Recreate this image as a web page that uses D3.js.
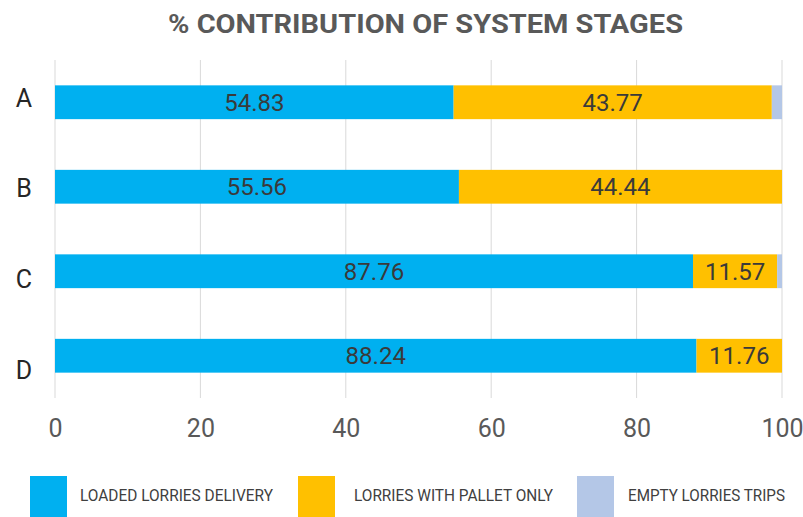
<!DOCTYPE html>
<html>
<head>
<meta charset="utf-8">
<script src="https://cdn.jsdelivr.net/npm/d3@7"></script>
<style>
  html, body { margin: 0; padding: 0; background: #fff; }
  svg { display: block; font-family: Roboto, "Noto Sans", sans-serif; }
</style>
</head>
<body>
<svg id="chart" width="803" height="517"></svg>
<script>
// Scenario categories and the share (%) of each system stage
const categories = ["A", "B", "C", "D"];
const loadedDelivery = [54.83, 55.56, 87.76, 88.24];
const palletOnly     = [43.77, 44.44, 11.57, 11.76];
const emptyTrips     = [1.40, 0.00, 0.67, 0.00];
const seriesNames = ["LOADED LORRIES DELIVERY", "LORRIES WITH PALLET ONLY", "EMPTY LORRIES TRIPS"];
const seriesColors = ["#00B0F0", "#FFC000", "#B4C7E7"];
const xTicks = [0, 20, 40, 60, 80, 100];
const titleText = "% CONTRIBUTION OF SYSTEM STAGES";

const svg = d3.select("#chart");
const W = 803, H = 517;
const plot = { left: 55, right: 782, top: 60, bottom: 398 };

const rows = categories.map((c, i) => ({
  cat: c,
  loaded: loadedDelivery[i],
  pallet: palletOnly[i],
  empty: emptyTrips[i]
}));
const keys = ["loaded", "pallet", "empty"];
const stacked = d3.stack().keys(keys)(rows);

const x = d3.scaleLinear().domain([0, 100]).range([plot.left, plot.right]);
const y = d3.scaleBand().domain(categories)
  .range([plot.top, plot.bottom]).paddingInner(0.6).paddingOuter(0.3);
// category labels sit on their own evenly spaced rail
const yLabel = d3.scalePoint().domain(categories).range([98, 370]);
const color = d3.scaleOrdinal().domain(keys).range(seriesColors);

// Title
svg.append("text")
  .attr("x", 425.5).attr("y", 33)
  .attr("text-anchor", "middle")
  .attr("font-size", 25).attr("font-weight", 700)
  .attr("fill", "#595959")
  .attr("textLength", 515).attr("lengthAdjust", "spacingAndGlyphs")
  .text(titleText);

// Vertical gridlines
svg.append("g").selectAll("line").data(xTicks).join("line")
  .attr("x1", d => x(d)).attr("x2", d => x(d))
  .attr("y1", plot.top).attr("y2", plot.bottom)
  .attr("stroke", "#d9d9d9").attr("stroke-width", 1);

// Stacked bars
svg.append("g").selectAll("g").data(stacked).join("g")
  .attr("fill", d => color(d.key))
  .selectAll("rect").data(d => d).join("rect")
  .attr("x", d => x(d[0]))
  .attr("y", d => y(d.data.cat))
  .attr("width", d => x(d[1]) - x(d[0]))
  .attr("height", y.bandwidth());

// Value labels for the two main segments
const labelled = stacked.filter(s => s.key !== "empty");
svg.append("g").selectAll("g").data(labelled).join("g")
  .selectAll("text").data(d => d).join("text")
  .attr("x", d => x((d[0] + d[1]) / 2))
  .attr("y", d => y(d.data.cat) + y.bandwidth() / 2)
  .attr("dy", "0.35em")
  .attr("text-anchor", "middle")
  .attr("font-size", 24)
  .attr("fill", "#3a3a3a")
  .text(d => (d[1] - d[0]).toFixed(2));

// Category axis labels
svg.append("g").selectAll("text").data(categories).join("text")
  .attr("x", 24).attr("y", d => yLabel(d))
  .attr("dy", "0.35em")
  .attr("text-anchor", "middle")
  .attr("font-size", 25)
  .attr("fill", "#262626")
  .text(d => d);

// Value axis
const xAxis = svg.append("g")
  .attr("transform", `translate(0,${plot.bottom})`)
  .call(d3.axisBottom(x).tickValues(xTicks).tickSize(0).tickPadding(21));
xAxis.select(".domain").remove();
xAxis.selectAll("text")
  .attr("font-family", "Roboto, sans-serif")
  .attr("font-size", 25)
  .attr("fill", "#595959");

// Legend
const legendItems = [
  { name: seriesNames[0], color: seriesColors[0], sx: 30, tx: 80, tw: 193 },
  { name: seriesNames[1], color: seriesColors[1], sx: 298, tx: 354, tw: 199 },
  { name: seriesNames[2], color: seriesColors[2], sx: 577, tx: 628, tw: 157 }
];
const legend = svg.append("g");
legend.selectAll("rect").data(legendItems).join("rect")
  .attr("x", d => d.sx).attr("y", 476)
  .attr("width", 37).attr("height", 41)
  .attr("fill", d => d.color);
legend.selectAll("text").data(legendItems).join("text")
  .attr("x", d => d.tx).attr("y", 495)
  .attr("dy", "0.35em")
  .attr("font-size", 17)
  .attr("fill", "#404040")
  .attr("textLength", d => d.tw).attr("lengthAdjust", "spacingAndGlyphs")
  .text(d => d.name);
</script>
</body>
</html>
